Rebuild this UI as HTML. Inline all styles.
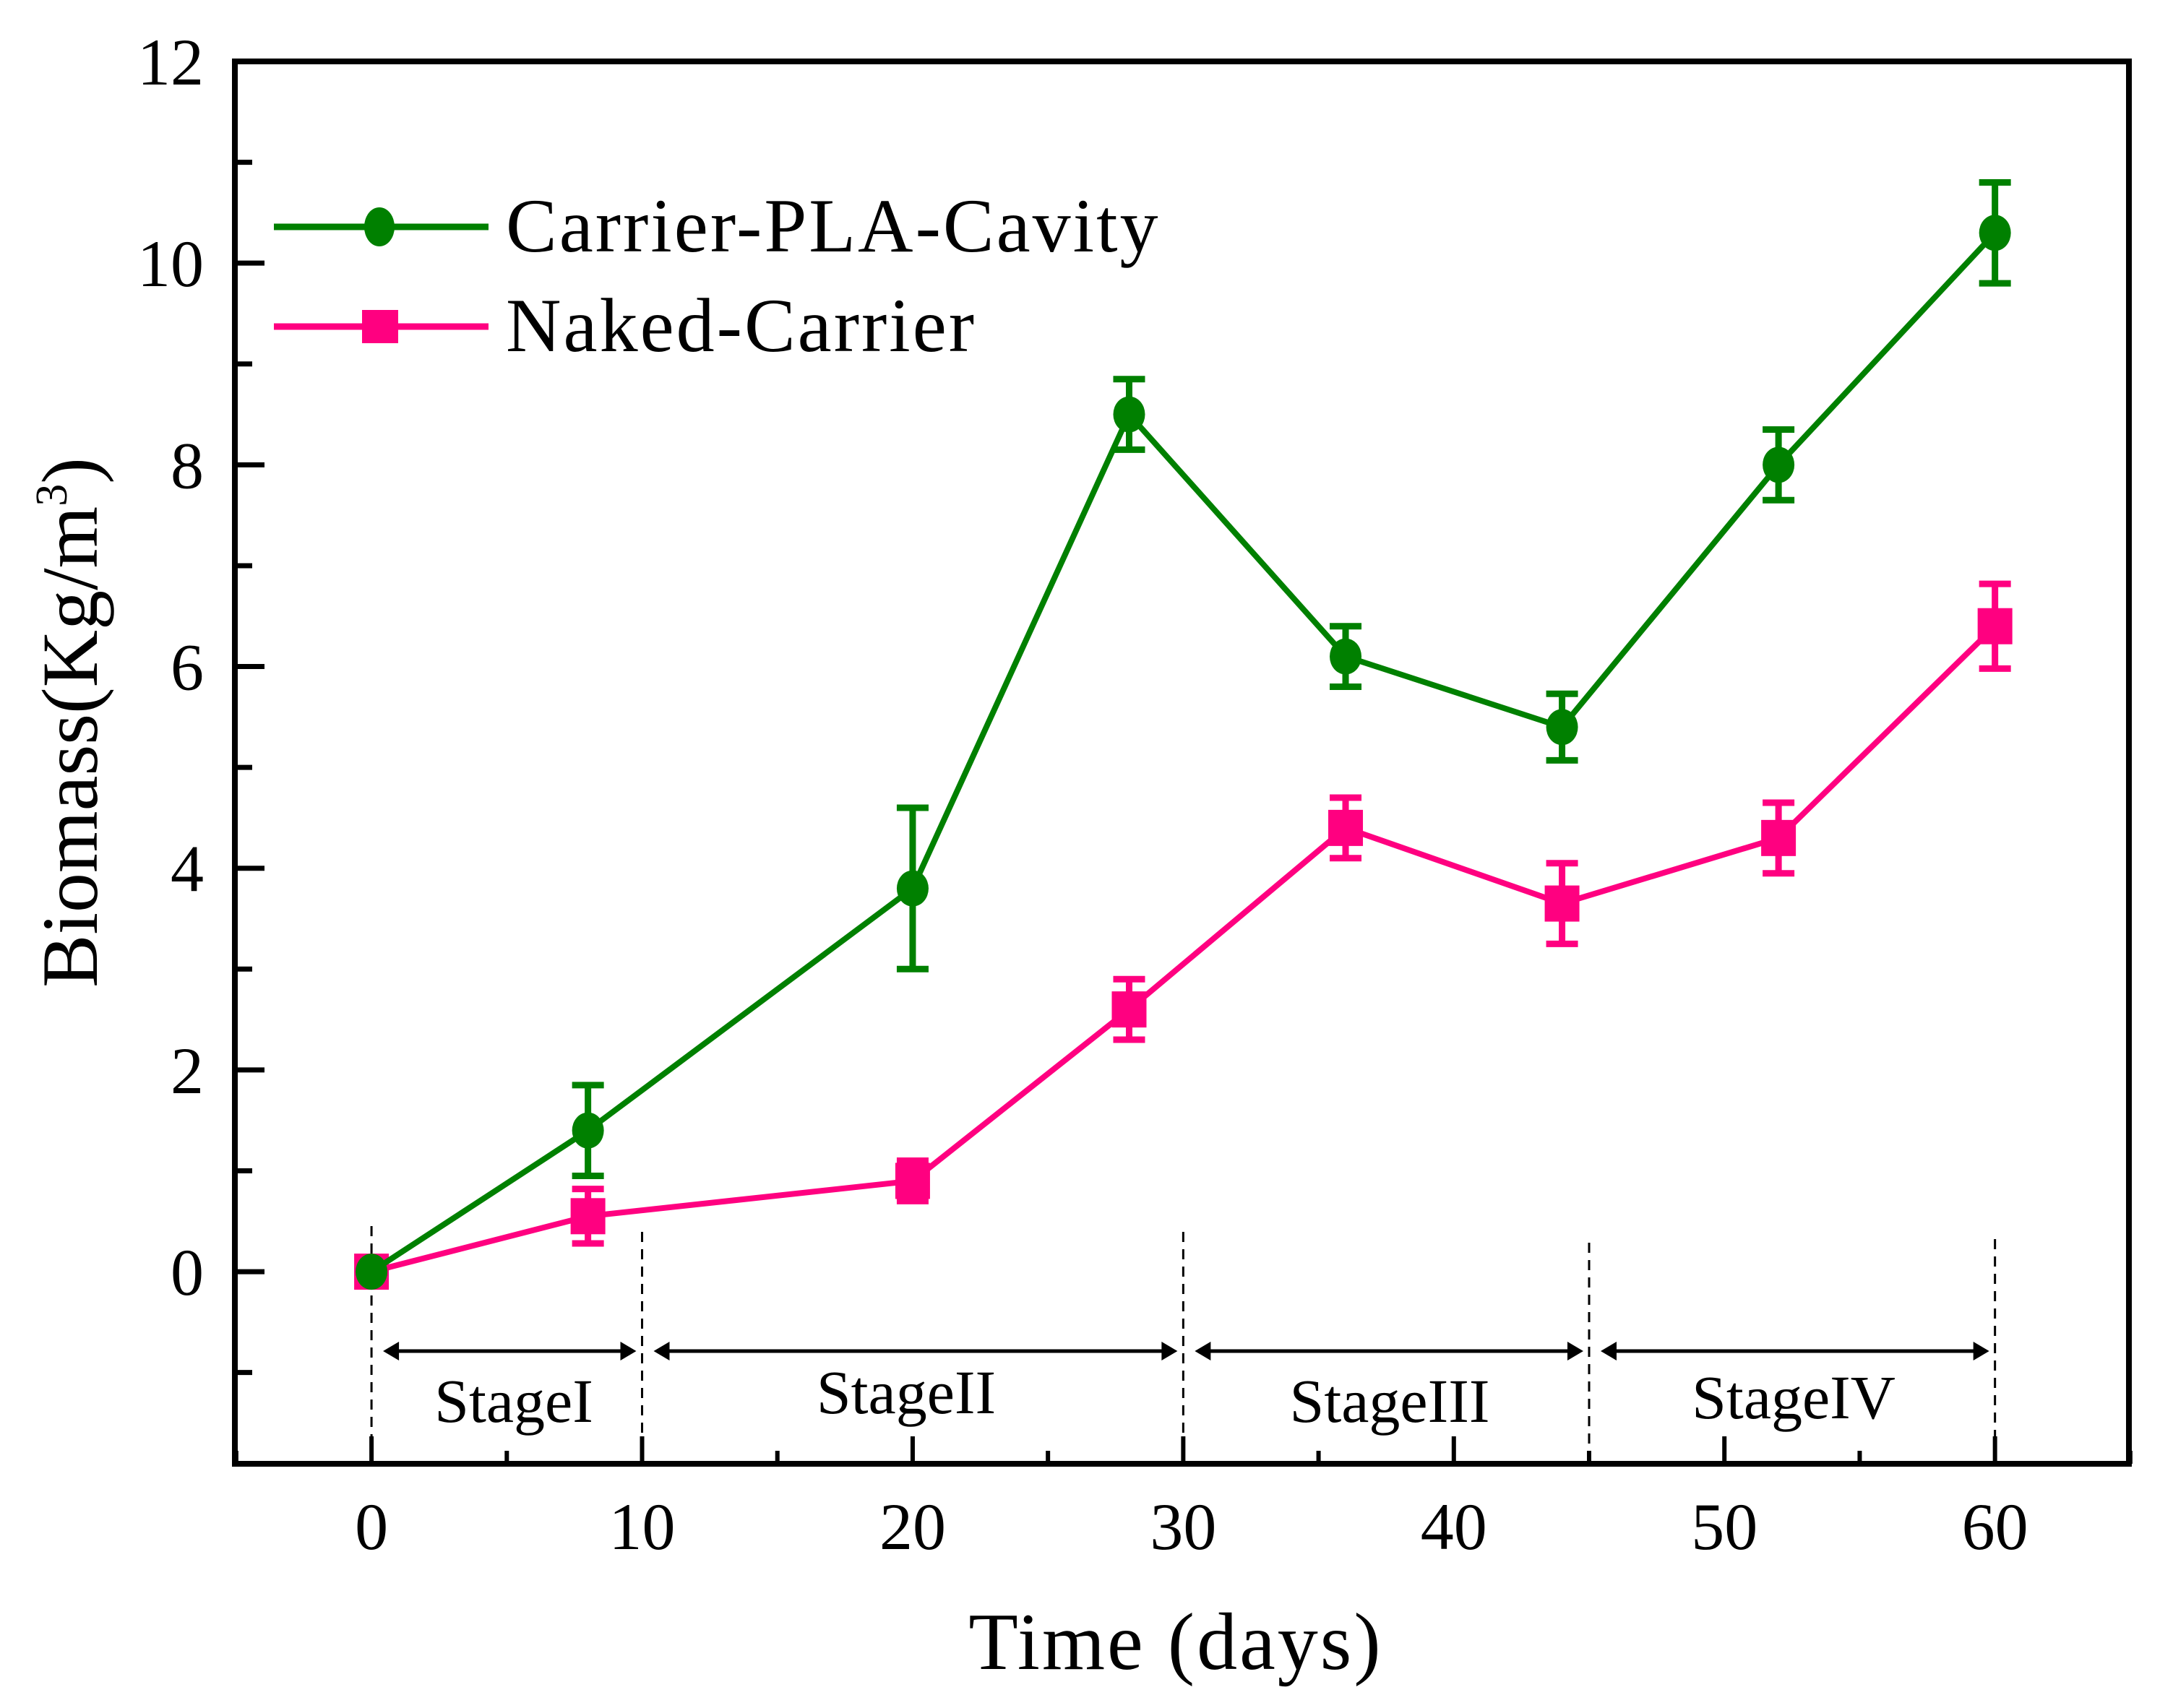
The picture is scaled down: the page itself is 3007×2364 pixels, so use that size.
<!DOCTYPE html>
<html><head><meta charset="utf-8"><style>
html,body{margin:0;padding:0;background:#fff;}
svg{display:block;font-family:"Liberation Serif",serif;}
</style></head><body>
<svg id="chart" width="3007" height="2364" viewBox="0 0 3007 2364" xmlns="http://www.w3.org/2000/svg">
<g id="plot"></g>
</svg>
<script>
const days = [0, 8, 20, 28, 36, 44, 52, 60];
const pla = [0, 1.4, 3.8, 8.5, 6.1, 5.4, 8.0, 10.3];
const plaErr = [0, 0.45, 0.8, 0.35, 0.3, 0.33, 0.35, 0.5];
const naked = [0, 0.55, 0.9, 2.6, 4.4, 3.65, 4.3, 6.4];
const nakedErr = [0, 0.27, 0.2, 0.3, 0.3, 0.4, 0.35, 0.42];
const yTicks = [0, 2, 4, 6, 8, 10, 12];
const xTicks = [0, 10, 20, 30, 40, 50, 60];
const stageBounds = [0, 10, 30, 45, 60];
const stageNames = ["StageI", "StageII", "StageIII", "StageIV"];

const L=325, R=2946, T=85, B=2026;
const xMin=-5.05, xMax=64.95, yMin=-1.905, yMax=12;
const sx = v => L + (v - xMin) / (xMax - xMin) * (R - L);
const sy = v => B - (v - yMin) / (yMax - yMin) * (B - T);
const NS = "http://www.w3.org/2000/svg";
const g = document.getElementById('plot');
function mk(tag, attrs, parent){ const e=document.createElementNS(NS,tag); for(const k in attrs) e.setAttribute(k,attrs[k]); (parent||g).appendChild(e); return e; }

let fr = mk('rect',{x:L,y:T,width:R-L,height:B-T,fill:'none',stroke:'#000','stroke-width':8});



for(let v=-1; v<=12; v++){
  const major = v%2===0;
  const t = mk('line',{x1:L,x2:L+(major?41:24),y1:sy(v),y2:sy(v),stroke:'#000','stroke-width':7});
  
  
}
yTicks.forEach(v=>{
  const t = mk('text',{x:282,y:sy(v)+32,'text-anchor':'end','font-size':92,fill:'#000'});
  t.textContent = v;
  
  
});
for(let v=-5; v<=65; v+=5){
  const major = v%10===0;
  const t = mk('line',{x1:sx(v),x2:sx(v),y1:B,y2:B-(major?38:18),stroke:'#000','stroke-width':6});
  
  
}
xTicks.forEach(v=>{
  const t = mk('text',{x:sx(v),y:2144,'text-anchor':'middle','font-size':92,fill:'#000'});
  t.textContent = v;
  
  
});
let xt = mk('text',{x:1627,y:2310,'text-anchor':'middle','font-size':112,fill:'#000','letter-spacing':3});
xt.textContent='Time (days)';


let yt = mk('text',{x:0,y:0,'text-anchor':'middle','font-size':110,fill:'#000',transform:'translate(134,1000) rotate(-90)'});
yt.innerHTML='Biomass(Kg/m<tspan dy="-42" font-size="62">3</tspan><tspan dy="42">)</tspan>';



const dashTop=[1697,1705,1705,1720,1715];
stageBounds.forEach((v,i)=>{
  const d = mk('line',{x1:sx(v),x2:sx(v),y1:dashTop[i],y2:B,stroke:'#000','stroke-width':3,'stroke-dasharray':'14 10'});
  
  
});
const ay=1870;
for(let i=0;i<4;i++){
  const a=sx(stageBounds[i])+22, b=sx(stageBounds[i+1])-14;
  const ln = mk('line',{x1:a,x2:b,y1:ay,y2:ay,stroke:'#000','stroke-width':5});
  
  
  mk('polygon',{points:`${a-6},${ay} ${a+16},${ay-13} ${a+16},${ay+13}`,fill:'#000'});
  mk('polygon',{points:`${b+6},${ay} ${b-16},${ay-13} ${b-16},${ay+13}`,fill:'#000'});
}
const stageY=[1968,1956,1968,1963];
const stageX=[711,1254,1923,2482];
stageNames.forEach((s,i)=>{
  const t = mk('text',{x:stageX[i],y:stageY[i],'text-anchor':'middle','font-size':86,fill:'#000'});
  t.textContent=s;
  
  
});

function series(vals, errs, color, shape, name){
  const sg = mk('g',{});
  
  
  const pts = days.map((d,i)=>`${sx(d)},${sy(vals[i])}`).join(' ');
  mk('polyline',{points:pts,fill:'none',stroke:color,'stroke-width':8},sg);
  days.forEach((d,i)=>{
    const x=sx(d), y1=sy(vals[i]+errs[i]), y2=sy(vals[i]-errs[i]);
    if(errs[i]>0){
      const e = mk('path',{d:`M${x},${y1}V${y2}M${x-22},${y1}H${x+22}M${x-22},${y2}H${x+22}`,stroke:color,'stroke-width':9,fill:'none'},sg);
      
      
    }
    let m;
    if(shape==='circle') m = mk('ellipse',{cx:x,cy:sy(vals[i]),rx:22,ry:25,fill:color},sg);
    else m = mk('rect',{x:x-24,y:sy(vals[i])-25,width:48,height:50,fill:color},sg);
    
    
  });
}
series(naked, nakedErr, '#ff0080', 'square', 'naked-carrier');
series(pla, plaErr, '#008000', 'circle', 'carrier-pla-cavity');

function legend(y, color, shape, label, name){
  const lg = mk('g',{});
  
  
  mk('line',{x1:379,x2:676,y1:y,y2:y,stroke:color,'stroke-width':9},lg);
  if(shape==='circle') mk('ellipse',{cx:525,cy:y,rx:21,ry:27,fill:color},lg);
  else mk('rect',{x:501,y:y-23,width:50,height:46,fill:color},lg);
  const t = mk('text',{x:700,y:y+34,'font-size':106,fill:'#000','letter-spacing':3},lg);
  t.textContent=label;
}
legend(314,'#008000','circle','Carrier-PLA-Cavity','carrier-pla-cavity');
legend(452,'#ff0080','square','Naked-Carrier','naked-carrier');
</script>
</body></html>
